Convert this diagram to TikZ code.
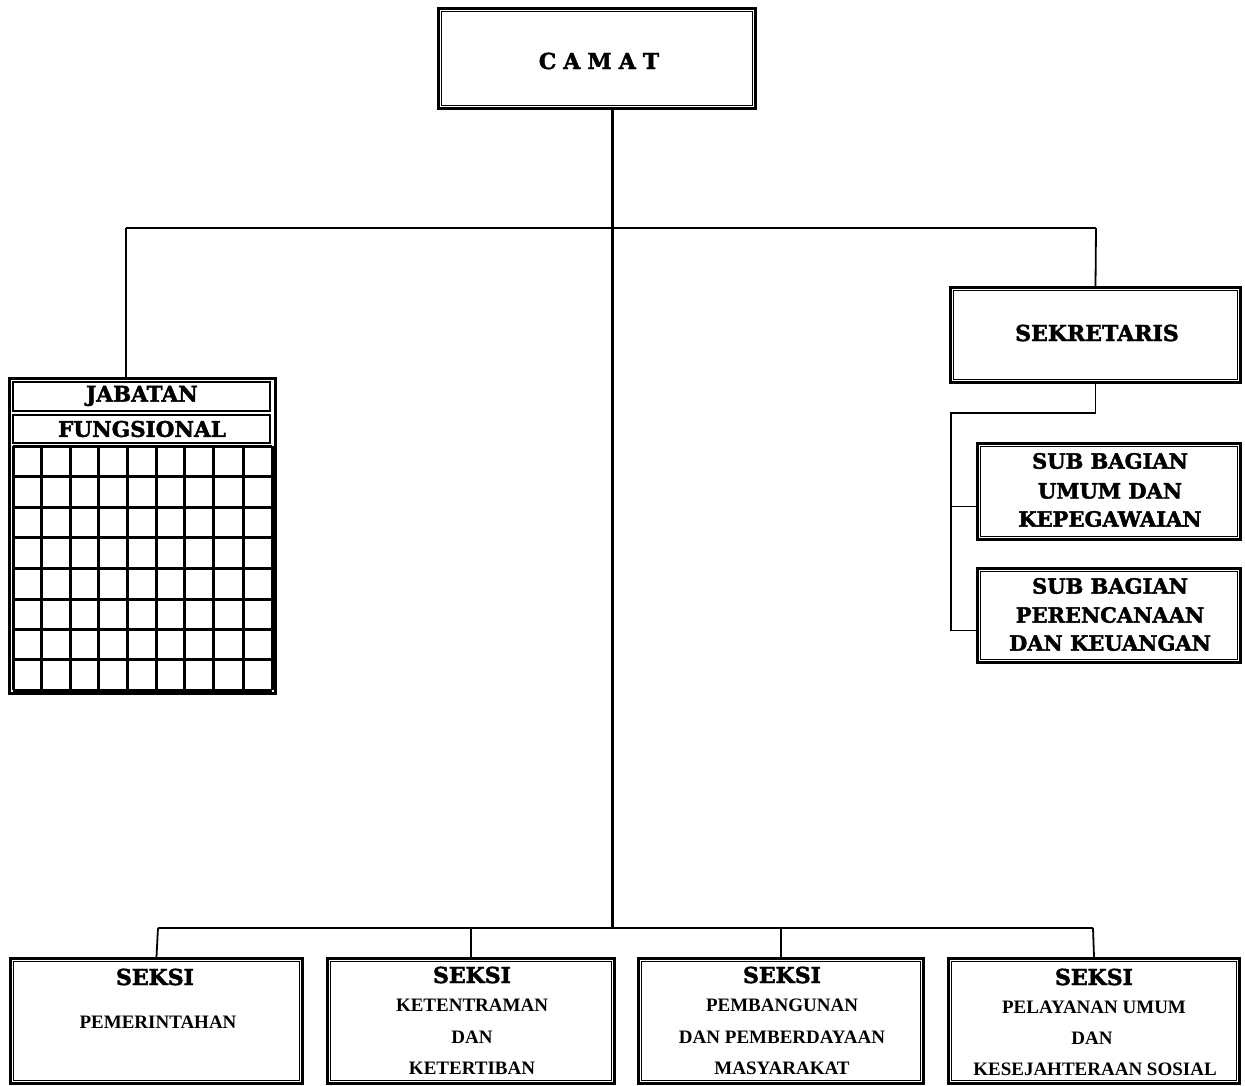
\documentclass[tikz,border=0pt]{standalone}
\usepackage{fontspec}
\setmainfont{DejaVu Serif}
\newfontfamily\heavyserif{DejaVu Serif}[UprightFont={* Bold}, UprightFeatures={FakeBold=2}]
\newfontfamily\libserif{Liberation Serif}
\usetikzlibrary{calc}
\tikzset{
  dbox/.style={draw, line width=3.4pt, inner sep=0pt, fill=white},
  hstrip/.style={draw, line width=2pt, inner sep=0pt},
  innerline/.style={line width=1.1pt},
  trunk/.style={line width=3pt},
  conn/.style={line width=1.8pt},
  gridline/.style={line width=3pt},
  ttl/.style={inner sep=0pt, font=\heavyserif\fontsize{22}{22}\selectfont},
  ttlsub/.style={inner sep=0pt, font=\heavyserif\fontsize{21}{21}\selectfont},
  seksi/.style={inner sep=0pt, font=\heavyserif\fontsize{22}{22}\selectfont},
  desc/.style={inner sep=0pt, font=\libserif\bfseries\fontsize{19}{19}\selectfont},
}
\newcommand\innerframe[1]{\draw[innerline] ([shift={(4.5,4.5)}]#1.north west) rectangle ([shift={(-4.5,-4.5)}]#1.south east);}
\begin{document}
\begin{tikzpicture}[x=1pt,y=-1pt]
\useasboundingbox[fill=white] (0,0) rectangle (1245,1086);

% coordinates for buses
\coordinate (bus1) at (612,228);
\coordinate (bus2) at (612,928);
\coordinate (busl) at (126,228);
\coordinate (busr) at (1096,228);
\coordinate (bbl) at (158,928);
\coordinate (bbr) at (1093,928);
\coordinate (sv) at (951,413);

% CAMAT
\node[dbox, minimum width=317, minimum height=100] (camat) at (597,58.5) {};
\innerframe{camat}
\node[ttl] (camatt) at (599,61) {C\hspace{7pt}A\hspace{7pt}M\hspace{7pt}A\hspace{7pt}T};

% JABATAN FUNGSIONAL
\node[dbox, minimum width=266, minimum height=315] (jab) at (142.5,536) {};
\node[hstrip, minimum width=257, minimum height=29] (jab1) at (141.5,396.5) {};
\node[hstrip, minimum width=257, minimum height=28] (jab2) at (141.5,429) {};
\node[ttl, font=\heavyserif\fontsize{21.5}{21.5}\selectfont] (jabt1) at (142,396) {JABATAN};
\node[ttl, font=\heavyserif\fontsize{21.5}{21.5}\selectfont] (jabt2) at (142,429) {FUNGSIONAL};
\foreach \gx in {13,41,70,98,127,156,184,213,243,272} {
  \draw[gridline] (\gx,446) -- (\gx,690);
}
\foreach \gy in {446,476,507,537,568,599,629,659,690} {
  \draw[gridline] (13,\gy) -- (272,\gy);
}

% SEKRETARIS
\node[dbox, minimum width=290, minimum height=95] (sek) at (1095.5,335) {};
\innerframe{sek}
\node[ttl] (sekt) at (1097,333) {SEKRETARIS};

% SUB BAGIAN
\node[dbox, minimum width=263, minimum height=96] (sub1) at (1109,491.5) {};
\innerframe{sub1}
\node[ttlsub] (sub1a) at (1110,461) {SUB BAGIAN};
\node[ttlsub] (sub1b) at (1110,491) {UMUM DAN};
\node[ttlsub] (sub1c) at (1110,519) {KEPEGAWAIAN};

\node[dbox, minimum width=263, minimum height=94] (sub2) at (1109,615.5) {};
\innerframe{sub2}
\node[ttlsub] (sub2a) at (1110,586) {SUB BAGIAN};
\node[ttlsub] (sub2b) at (1110,615) {PERENCANAAN};
\node[ttlsub] (sub2c) at (1110,643) {DAN KEUANGAN};

% SEKSI boxes
\node[dbox, minimum width=292, minimum height=125] (s1) at (156.5,1021) {};
\innerframe{s1}
\node[dbox, minimum width=287, minimum height=125] (s2) at (471,1021) {};
\innerframe{s2}
\node[dbox, minimum width=285, minimum height=125] (s3) at (781,1021) {};
\innerframe{s3}
\node[dbox, minimum width=291, minimum height=125] (s4) at (1094,1021) {};
\innerframe{s4}

\node[seksi] (s1t) at (155,977) {SEKSI};
\node[desc] (s1a) at (158,1022) {PEMERINTAHAN};

\node[seksi] (s2t) at (472,975) {SEKSI};
\node[desc] (s2a) at (472,1005) {KETENTRAMAN};
\node[desc] (s2b) at (472,1037) {DAN};
\node[desc] (s2c) at (472,1068) {KETERTIBAN};

\node[seksi] (s3t) at (782,975) {SEKSI};
\node[desc] (s3a) at (782,1005) {PEMBANGUNAN};
\node[desc] (s3b) at (782,1037) {DAN PEMBERDAYAAN};
\node[desc] (s3c) at (782,1068) {MASYARAKAT};

\node[seksi] (s4t) at (1094,977) {SEKSI};
\node[desc] (s4a) at (1094,1007) {PELAYANAN UMUM};
\node[desc] (s4b) at (1092,1038) {DAN};
\node[desc] (s4c) at (1095,1069) {KESEJAHTERAAN SOSIAL};

% connectors
\draw[trunk] (camat.south -| bus1) -- (bus2);
\draw[conn] (busl) -- (busr);
\draw[conn] (busl) -- (busl |- jab.north);
\draw[conn] (busr) -- (sek.north);
\draw[conn] (sek.south) |- (sv) -- (sv |- {$(sub2.west)+(0,15)$}) -- ($(sub2.west)+(0,15)$);
\draw[conn] (sv |- {$(sub1.west)+(0,15)$}) -- ($(sub1.west)+(0,15)$);
\draw[conn] (bbl) -- (bbr);
\draw[conn] (bbl) -- (s1.north);
\draw[conn] (s2.north |- bbl) -- (s2.north);
\draw[conn] (s3.north |- bbl) -- (s3.north);
\draw[conn] (bbr) -- (s4.north);
\end{tikzpicture}
\end{document}
